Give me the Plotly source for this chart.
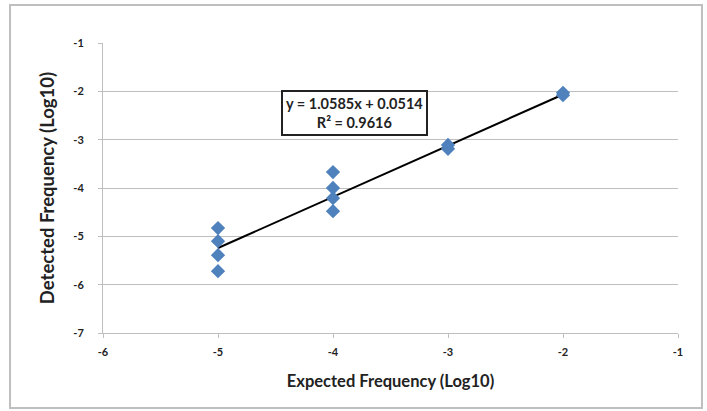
import plotly.graph_objects as go

expected = [-5, -5, -5, -5, -4, -4, -4, -4, -3, -3, -2, -2]
detected = [-4.83, -5.10, -5.39, -5.72, -3.67, -4.00, -4.21, -4.48, -3.11, -3.19, -2.03, -2.08]
slope = 1.0585
intercept = 0.0514
r2 = 0.9616
x_ticks = [-6, -5, -4, -3, -2, -1]
y_ticks = [-7, -6, -5, -4, -3, -2, -1]

trend_x = [min(expected), max(expected)]
trend_y = [slope * v + intercept for v in trend_x]

fig = go.Figure()
fig.add_trace(go.Scatter(x=trend_x, y=trend_y, mode="lines",
                         line=dict(color="#000000", width=2), hoverinfo="skip"))
fig.add_trace(go.Scatter(x=expected, y=detected, mode="markers",
                         marker=dict(symbol="diamond", size=11, color="#4F81BD")))

fig.add_annotation(x=-3.81, y=-2.44, xref="x", yref="y",
                   text=f"<b>y = {slope}x + {intercept}<br>R² = {r2}</b>",
                   showarrow=False, font=dict(family="Lato", size=14.5, color="#222"),
                   bordercolor="#222", borderwidth=2, borderpad=3, bgcolor="white")

fig.add_shape(type="rect", xref="paper", yref="paper",
              x0=-93/575, x1=(702-103)/575, y0=-(408-333)/290, y1=(333-5)/290,
              line=dict(color="#BFBFBF", width=2), layer="below")

fig.update_layout(
    width=707, height=411,
    margin=dict(l=103, r=29, t=43, b=78, autoexpand=False),
    paper_bgcolor="white", plot_bgcolor="white",
    showlegend=False,
    font=dict(family="Lato", color="#222"),
)
fig.update_xaxes(range=[-6, -1], tickvals=x_ticks, ticktext=[str(v) for v in x_ticks],
                 showgrid=False, zeroline=False, automargin=False,
                 showline=True, linecolor="#BFBFBF", linewidth=1,
                 ticks="outside", ticklen=4, tickcolor="#BFBFBF", ticklabelstandoff=5,
                 tickfont=dict(size=11, family="Lato", color="#222", weight="bold"),
                 title=dict(text="<b>Expected Frequency (Log10)</b>", font=dict(size=16.5, family="Lato", color="#222"), standoff=18))
fig.update_yaxes(range=[-7, -1], tickvals=y_ticks, ticktext=[str(v) for v in y_ticks],
                 showgrid=True, gridcolor="#BFBFBF", gridwidth=1, automargin=False,
                 zeroline=False, showline=True, linecolor="#BFBFBF", linewidth=1,
                 ticks="outside", ticklen=4, tickcolor="#BFBFBF", ticklabelstandoff=12,
                 tickfont=dict(size=11, family="Lato", color="#222", weight="bold"),
                 title=dict(text="<b>Detected Frequency (Log10)</b>", font=dict(size=18.5, family="Lato", color="#222"), standoff=13))

fig.write_html("out.html", config={"displayModeBar": False},
               post_script="document.body.style.margin='0';")
